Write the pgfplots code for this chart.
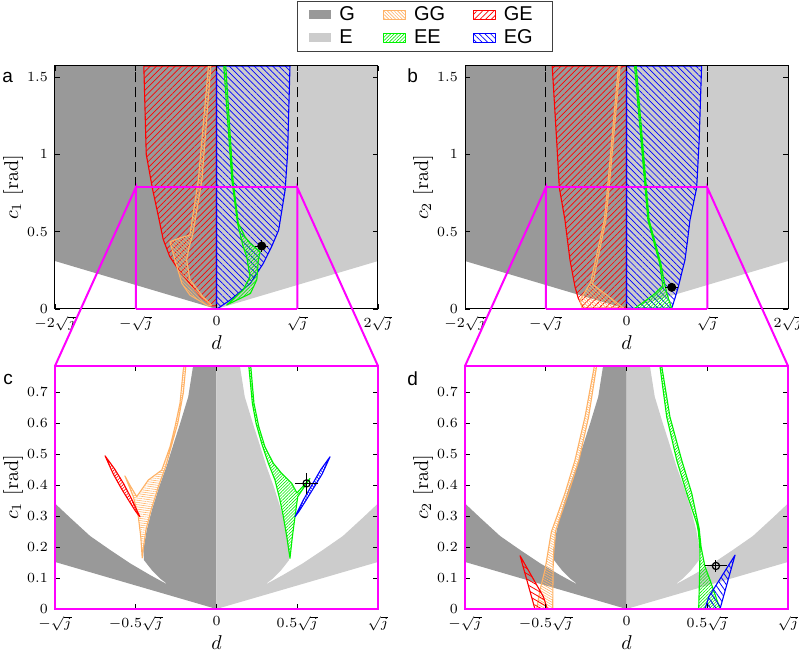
\documentclass[border=0pt]{standalone}
\usepackage{fontspec}
\usepackage{pgfplots}
\pgfplotsset{compat=1.18}
\usetikzlibrary{patterns.meta}
\newfontfamily\sansf{Liberation Sans}
\definecolor{Gcol}{gray}{0.6}
\definecolor{Ecol}{gray}{0.8}
\definecolor{GGcol}{rgb}{1,0.7,0.4}
\definecolor{GEcol}{rgb}{1,0,0}
\definecolor{EEcol}{rgb}{0,0.95,0}
\definecolor{EGcol}{rgb}{0,0,1}
\definecolor{zoomcol}{rgb}{1,0,1}
\tikzset{
  hatch/.style n args={4}{draw=#1, line width=0.55pt, pattern={Lines[angle=#2,distance=#3,line width=#4]}, pattern color=#1, mark=none},
  Gst/.style={fill=Gcol, draw=none, mark=none},
  Est/.style={fill=Ecol, draw=none, mark=none},
}
\pgfplotsset{
  panel/.style={scale only axis, width=161.5pt, height=121.5pt, ymin=0,
    axis line style={black, line width=0.5pt}, tick style={black, line width=0.4pt},
    major tick length=2.5pt, tick align=inside,
    tick label style={font=\fontsize{7}{8}\selectfont},
    label style={font=\fontsize{10}{11}\selectfont},
    xlabel={$d$},
    xlabel style={at={(axis description cs:0.5,-0.14)}, anchor=center},
    ylabel style={at={(axis description cs:-0.13,0.5)}, anchor=center},
    axis on top, every axis plot/.append style={mark=none, line join=round}},
  toppanel/.style={panel, xmin=-2, xmax=2, ymax=1.5708,
    xtick={-2,-1,0,1,2}, xticklabels={$-2\sqrt{j}$,$-\sqrt{j}$,$0$,$\sqrt{j}$,$2\sqrt{j}$},
    ytick={0,0.5,1,1.5}},
  botpanel/.style={panel, xmin=-1, xmax=1, ymax=0.7854,
    xtick={-1,-0.5,0,0.5,1}, xticklabels={$-\sqrt{j}$,$-0.5\sqrt{j}$,$0$,$0.5\sqrt{j}$,$\sqrt{j}$},
    ytick={0,0.1,0.2,0.3,0.4,0.5,0.6,0.7}, axis line style={zoomcol, line width=0.8pt}},
  errpt/.style={black, line width=0.5pt, mark=o, mark size=1.8pt, mark options={solid, line width=0.6pt},
    error bars/.cd, x dir=both, x explicit, y dir=both, y explicit,
    error bar style={line width=0.5pt}, error mark options={mark size=1.6pt, line width=0.5pt}, /pgfplots/.cd},
  errptfill/.style={black, line width=0.5pt, mark=*, mark size=2pt, mark options={solid, fill=black},
    error bars/.cd, x dir=both, x explicit, y dir=both, y explicit,
    error bar style={line width=0.5pt}, error mark options={mark size=1.2pt, line width=0.5pt}, /pgfplots/.cd},
}
\begin{document}
\begin{tikzpicture}
\useasboundingbox (0,0) rectangle (399.5pt,326pt);
% ---------------- panel a ----------------
\begin{axis}[toppanel, at={(27.5pt,171.5pt)}, anchor=south west, ylabel={$c_1\ [\mathrm{rad}]$},
  legend image code/.code={\path[#1] (0pt,-2.2pt) rectangle (11pt,2.2pt);},
  legend style={at={(axis description cs:0.7492,1.2675)}, anchor=north west, legend columns=3,
    draw=black!75, line width=0.4pt, fill=white, font=\sansf\fontsize{10}{10}\selectfont,
    inner xsep=6pt, inner ysep=2pt, row sep=2pt,
    /tikz/every even column/.append style={column sep=10pt}, nodes={inner xsep=4pt, inner ysep=0.5pt}},
  legend cell align=left]
\addlegendimage{Gst}\addlegendentry{G}
\addlegendimage{hatch={GGcol}{-45}{1.2pt}{0.3pt}}\addlegendentry{GG}
\addlegendimage{hatch={GEcol}{45}{2pt}{0.35pt}}\addlegendentry{GE}
\addlegendimage{Est}\addlegendentry{E}
\addlegendimage{hatch={EEcol}{45}{1.2pt}{0.3pt}}\addlegendentry{EE}
\addlegendimage{hatch={EGcol}{-45}{2pt}{0.35pt}}\addlegendentry{EG}
\addplot[Gst, forget plot] coordinates {(-2,0.31) (0,0) (0,1.5708) (-2,1.5708)} -- cycle;
\addplot[Est, forget plot] coordinates {(2,0.31) (0,0) (0,1.5708) (2,1.5708)} -- cycle;
\addplot[hatch={GEcol}{45}{2.2pt}{0.35pt}, forget plot] coordinates {(0,1.5708) (-0.90,1.5708) (-0.87,1.0) (-0.79,0.77) (-0.72,0.6) (-0.66,0.45) (-0.58,0.34) (-0.48,0.26) (-0.37,0.19) (-0.20,0.08) (-0.06,0.02) (0,0.02)} -- cycle;
\addplot[hatch={EGcol}{-45}{2.2pt}{0.35pt}, forget plot] coordinates {(0,1.5708) (0.91,1.5708) (0.88,1.0) (0.85,0.77) (0.77,0.51) (0.68,0.40) (0.58,0.295) (0.42,0.166) (0.17,0.058) (0.02,0.005) (0,0.005)} -- cycle;
\addplot[hatch={GGcol}{-45}{1.2pt}{0.3pt}, forget plot] coordinates {(-0.10,1.5708) (-0.07,1.5708) (-0.18,0.834) (-0.295,0.478) (-0.34,0.40) (-0.369,0.317) (-0.33,0.19) (-0.17,0.08) (-0.06,0.025) (-0.10,0.019) (-0.33,0.09) (-0.43,0.166) (-0.49,0.274) (-0.515,0.317) (-0.576,0.435) (-0.45,0.46) (-0.33,0.478) (-0.225,0.834)} -- cycle;
\addplot[hatch={EEcol}{45}{1.2pt}{0.3pt}, forget plot] coordinates {(0.09,1.5708) (0.115,1.5708) (0.205,0.834) (0.27,0.554) (0.353,0.467) (0.415,0.425) (0.54,0.37) (0.518,0.317) (0.50,0.19) (0.42,0.10) (0.126,0.026) (0.33,0.123) (0.415,0.209) (0.374,0.338) (0.33,0.403) (0.26,0.554) (0.19,0.834)} -- cycle;
\addplot[black, line width=0.6pt, dash pattern=on 5pt off 2.5pt, forget plot] coordinates {(-1,0.7854) (-1,1.5708)};
\addplot[black, line width=0.6pt, dash pattern=on 5pt off 2.5pt, forget plot] coordinates {(1,0.7854) (1,1.5708)};
\addplot[forget plot, errptfill] coordinates {(0.56,0.407) +- (0.052,0.023)};
\coordinate (aBL) at (axis cs:-1,0);
\coordinate (aTL) at (axis cs:-1,0.7854);
\coordinate (aTR) at (axis cs:1,0.7854);
\coordinate (aBR) at (axis cs:1,0);
\end{axis}
% ---------------- panel b ----------------
\begin{axis}[toppanel, at={(232.5pt,171.5pt)}, anchor=south west, ylabel={$c_2\ [\mathrm{rad}]$}]
\addplot[Gst] coordinates {(-2,0.31) (0,0) (0,1.5708) (-2,1.5708)} -- cycle;
\addplot[Est] coordinates {(2,0.31) (0,0) (0,1.5708) (2,1.5708)} -- cycle;
\addplot[hatch={GEcol}{45}{2.2pt}{0.35pt}] coordinates {(0,1.5708) (-0.92,1.5708) (-0.865,1.09) (-0.832,0.784) (-0.762,0.575) (-0.73,0.44) (-0.70,0.317) (-0.638,0.144) (-0.597,0.069) (-0.535,0.005) (0,0.005)} -- cycle;
\addplot[hatch={EGcol}{-45}{2.2pt}{0.35pt}] coordinates {(0,1.5708) (0.93,1.5708) (0.90,1.09) (0.869,0.784) (0.786,0.575) (0.755,0.44) (0.724,0.317) (0.642,0.144) (0.60,0.069) (0.56,0.005) (0,0.005)} -- cycle;
\addplot[hatch={GGcol}{-45}{1.2pt}{0.3pt}] coordinates {(-0.10,1.5708) (-0.08,1.5708) (-0.215,0.785) (-0.255,0.575) (-0.42,0.16) (-0.03,0.004) (-0.55,0.004) (-0.576,0.058) (-0.445,0.17) (-0.275,0.575) (-0.235,0.785)} -- cycle;
\addplot[hatch={EEcol}{45}{1.2pt}{0.3pt}] coordinates {(0.10,1.5708) (0.12,1.5708) (0.28,0.575) (0.425,0.295) (0.47,0.17) (0.50,0.10) (0.56,0.004) (0.10,0.004) (0.20,0.04) (0.33,0.09) (0.45,0.15) (0.41,0.295) (0.265,0.575)} -- cycle;
\addplot[black, line width=0.6pt, dash pattern=on 5pt off 2.5pt] coordinates {(-1,0.7854) (-1,1.5708)};
\addplot[black, line width=0.6pt, dash pattern=on 5pt off 2.5pt] coordinates {(1,0.7854) (1,1.5708)};
\addplot[errptfill] coordinates {(0.56,0.14) +- (0.048,0.008)};
\coordinate (bBL) at (axis cs:-1,0);
\coordinate (bTL) at (axis cs:-1,0.7854);
\coordinate (bTR) at (axis cs:1,0.7854);
\coordinate (bBR) at (axis cs:1,0);
\end{axis}
% ---------------- panel c ----------------
\begin{axis}[botpanel, at={(27.5pt,21.5pt)}, anchor=south west, ylabel={$c_1\ [\mathrm{rad}]$}]
\addplot[Gst] coordinates {(0,0) (-1,0.152) (-1,0.341) (-0.9,0.292) (-0.783,0.236) (-0.659,0.191) (-0.536,0.148) (-0.412,0.110) (-0.298,0.0775) (-0.350,0.099) (-0.401,0.126) (-0.449,0.158) (-0.453,0.191) (-0.432,0.255) (-0.40,0.320) (-0.355,0.395) (-0.31,0.460) (-0.265,0.535) (-0.225,0.600) (-0.175,0.686) (-0.145,0.7854) (0,0.7854)} -- cycle;
\addplot[Est] coordinates {(0,0) (1,0.152) (1,0.341) (0.9,0.292) (0.783,0.236) (0.659,0.191) (0.536,0.148) (0.412,0.110) (0.298,0.0775) (0.350,0.099) (0.401,0.126) (0.449,0.158) (0.453,0.191) (0.432,0.255) (0.40,0.320) (0.355,0.395) (0.31,0.460) (0.265,0.535) (0.225,0.600) (0.175,0.686) (0.145,0.7854) (0,0.7854)} -- cycle;
\addplot[hatch={GGcol}{-8}{1.1pt}{0.3pt}] coordinates {(-0.200,0.7854) (-0.190,0.7854) (-0.205,0.70) (-0.24,0.60) (-0.275,0.535) (-0.315,0.46) (-0.36,0.395) (-0.405,0.32) (-0.437,0.255) (-0.455,0.19) (-0.46,0.165) (-0.469,0.234) (-0.484,0.298) (-0.515,0.363) (-0.567,0.430) (-0.536,0.40) (-0.494,0.363) (-0.422,0.417) (-0.339,0.449) (-0.288,0.524) (-0.257,0.589) (-0.226,0.665) (-0.206,0.772)} -- cycle;
\addplot[hatch={GEcol}{45}{1.2pt}{0.3pt}] coordinates {(-0.69,0.495) (-0.63,0.452) (-0.575,0.405) (-0.525,0.355) (-0.474,0.298) (-0.50,0.315) (-0.545,0.352) (-0.59,0.39) (-0.64,0.437)} -- cycle;
\addplot[hatch={EEcol}{45}{1.1pt}{0.3pt}] coordinates {(0.200,0.7854) (0.222,0.665) (0.245,0.60) (0.280,0.535) (0.321,0.471) (0.362,0.417) (0.393,0.352) (0.414,0.298) (0.435,0.234) (0.455,0.164) (0.470,0.234) (0.486,0.298) (0.503,0.363) (0.579,0.422) (0.498,0.375) (0.466,0.406) (0.404,0.438) (0.352,0.471) (0.300,0.524) (0.262,0.589) (0.232,0.665) (0.212,0.7854)} -- cycle;
\addplot[hatch={EGcol}{-45}{1.2pt}{0.3pt}] coordinates {(0.703,0.492) (0.645,0.45) (0.59,0.40) (0.535,0.35) (0.486,0.298) (0.51,0.315) (0.555,0.352) (0.60,0.39) (0.655,0.437)} -- cycle;
\addplot[errpt] coordinates {(0.558,0.406) +- (0.052,0.023)};
\coordinate (cTL) at (rel axis cs:0,1);
\coordinate (cTR) at (rel axis cs:1,1);
\end{axis}
% ---------------- panel d ----------------
\begin{axis}[botpanel, at={(232.5pt,21.5pt)}, anchor=south west, ylabel={$c_2\ [\mathrm{rad}]$}]
\addplot[Gst] coordinates {(0,0) (-1,0.152) (-1,0.341) (-0.9,0.292) (-0.783,0.236) (-0.659,0.191) (-0.536,0.148) (-0.412,0.110) (-0.298,0.0775) (-0.350,0.099) (-0.401,0.126) (-0.449,0.158) (-0.453,0.191) (-0.432,0.255) (-0.40,0.320) (-0.355,0.395) (-0.31,0.460) (-0.265,0.535) (-0.225,0.600) (-0.175,0.686) (-0.145,0.7854) (0,0.7854)} -- cycle;
\addplot[Est] coordinates {(0,0) (1,0.152) (1,0.341) (0.9,0.292) (0.783,0.236) (0.659,0.191) (0.536,0.148) (0.412,0.110) (0.298,0.0775) (0.350,0.099) (0.401,0.126) (0.449,0.158) (0.453,0.191) (0.432,0.255) (0.40,0.320) (0.355,0.395) (0.31,0.460) (0.265,0.535) (0.225,0.600) (0.175,0.686) (0.145,0.7854) (0,0.7854)} -- cycle;
\addplot[hatch={GGcol}{-30}{1.1pt}{0.3pt}] coordinates {(-0.199,0.7854) (-0.185,0.7854) (-0.235,0.62) (-0.295,0.48) (-0.36,0.374) (-0.41,0.298) (-0.44,0.25) (-0.443,0.223) (-0.453,0.169) (-0.455,0.10) (-0.457,0.0) (-0.556,0.0) (-0.536,0.061) (-0.505,0.126) (-0.474,0.223) (-0.465,0.25) (-0.432,0.298) (-0.381,0.374) (-0.319,0.481) (-0.257,0.621)} -- cycle;
\addplot[hatch={GEcol}{-30}{2.3pt}{0.4pt}] coordinates {(-0.659,0.172) (-0.567,0.0) (-0.49,0.0) (-0.515,0.04)} -- cycle;
\addplot[hatch={EEcol}{45}{1.1pt}{0.3pt}] coordinates {(0.207,0.7854) (0.249,0.621) (0.311,0.481) (0.373,0.374) (0.435,0.277) (0.445,0.25) (0.455,0.191) (0.452,0.1) (0.447,0.0) (0.579,0.0) (0.517,0.094) (0.486,0.137) (0.462,0.20) (0.45,0.26) (0.404,0.374) (0.342,0.481) (0.269,0.621) (0.218,0.7854)} -- cycle;
\addplot[hatch={EGcol}{-55}{2.2pt}{0.4pt}] coordinates {(0.672,0.174) (0.579,0.0) (0.486,0.0) (0.51,0.04)} -- cycle;
\addplot[errpt] coordinates {(0.554,0.139) +- (0.048,0.008)};
\coordinate (dTL) at (rel axis cs:0,1);
\coordinate (dTR) at (rel axis cs:1,1);
\end{axis}
% ---------------- zoom indicators ----------------
\draw[draw=zoomcol, line width=1pt] (aBL) -- (aTL) -- (cTL);
\draw[draw=zoomcol, line width=1pt] (aBR) -- (aTR) -- (cTR);
\draw[draw=zoomcol, line width=1pt] (aTL) -- (aTR);
\draw[draw=zoomcol, line width=1pt] (aBL) -- (aBR);
\draw[draw=zoomcol, line width=1pt] (bBL) -- (bTL) -- (dTL);
\draw[draw=zoomcol, line width=1pt] (bBR) -- (bTR) -- (dTR);
\draw[draw=zoomcol, line width=1pt] (bTL) -- (bTR);
\draw[draw=zoomcol, line width=1pt] (bBL) -- (bBR);
% ---------------- panel letters ----------------
\node[anchor=base west, inner sep=0, font=\sansf\fontsize{9.5}{10}\selectfont] at (1pt,284.5pt) {a};
\node[anchor=base west, inner sep=0, font=\sansf\fontsize{9.5}{10}\selectfont] at (203.5pt,284.5pt) {b};
\node[anchor=base west, inner sep=0, font=\sansf\fontsize{9.5}{10}\selectfont] at (1.5pt,133.5pt) {c};
\node[anchor=base west, inner sep=0, font=\sansf\fontsize{9.5}{10}\selectfont] at (203.5pt,133pt) {d};
\end{tikzpicture}
\end{document}
